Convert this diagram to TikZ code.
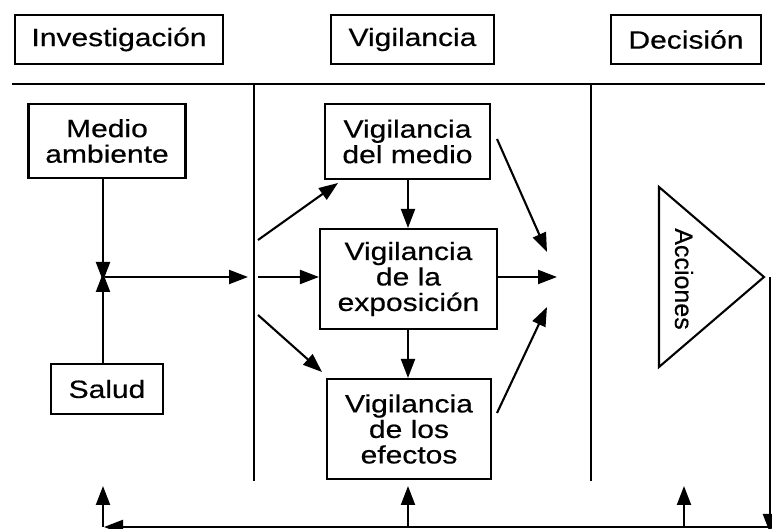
\documentclass[tikz,border=0pt]{standalone}
\usepackage{fontspec}
\setmainfont{Liberation Sans}[FakeStretch=1.2,FakeBold=0.5]
\newfontfamily\accfont{Liberation Sans}[FakeBold=0.5]
\usetikzlibrary{arrows.meta}

\begin{document}
\begin{tikzpicture}[x=1pt,y=-1pt,line width=2.1pt,
    box/.style={draw,align=center,inner sep=0pt,font=\fontsize{25}{25.5}\selectfont},
    arr/.style={-{Triangle[length=19pt,width=14pt]}}]
    \useasboundingbox (0,0) rectangle (772,529);

    % cabeceras
    \node[box,minimum width=208,minimum height=49] (inv) at (119,39.5) {Investigación};
    \node[box,minimum width=163,minimum height=49] (vig) at (412.5,39.5) {Vigilancia};
    \node[box,minimum width=150,minimum height=49] (dec) at (686,39.5) {Decisión};
    \draw (12,84) -- (765,84);
    \draw (254,84) -- (254,481);
    \draw (591,84) -- (591,481);

    % investigacion
    \node[box,minimum width=157,minimum height=74] (medamb) at (107,141) {Medio\\ambiente};
    \node[box,minimum width=112,minimum height=50] (salud) at (107,389) {Salud};
    \coordinate (j) at (103,277);
    \draw[arr] (medamb.south -| j) -- ([yshift=-4pt]j);
    \draw[arr] (salud.north -| j) -- ([yshift=4pt]j);
    \draw[arr] ([xshift=2pt]j) -- (248,277);

    % vigilancia
    \node[box,minimum width=165,minimum height=75] (vmed) at (407.5,141.5) {Vigilancia\\del medio};
    \node[box,minimum width=177,minimum height=100] (vexp) at (408.5,279) {Vigilancia\\de la\\exposición};
    \node[box,minimum width=164,minimum height=100] (vefe) at (409,429) {Vigilancia\\de los\\efectos};
    \draw[arr] (258,240) -- (338,183);
    \draw[arr] (258,277) -- (vexp.west |- 0,277);
    \draw[arr] (258,315) -- (322,372);
    \draw[arr] (vmed.south -| 408,0) -- (vexp.north -| 408,0);
    \draw[arr] (vexp.south -| 408,0) -- (vefe.north -| 408,0);
    \draw[arr] (497,139) -- (547,252);
    \draw[arr] (vexp.east |- 0,277) -- (557,277);
    \draw[arr] (497,413) -- (547,307);

    % decision
    \draw (659,187) -- (764,277) -- (659,367) -- cycle;
    \node[rotate=-90,font=\accfont\fontsize{25}{25}\selectfont] (acc) at (684,279) {Acciones};

    % retorno
    \coordinate (r) at (770,277);
    \coordinate (b) at (770,527);
    \draw[arr] (r) -- ([yshift=-6pt]b);
    \draw[arr] (b) -- (104,527);
    \foreach \x in {103,408,684}
        \draw[arr] (\x,527) -- (\x,486);
\end{tikzpicture}
\end{document}
